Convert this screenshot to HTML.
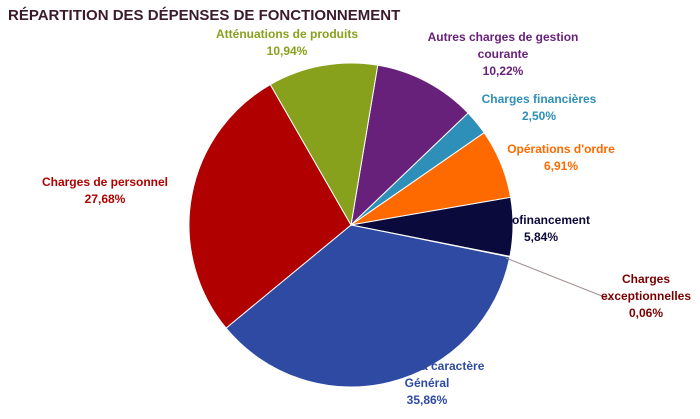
<!DOCTYPE html>
<html><head><meta charset="utf-8"><style>
body{margin:0;background:#fff;width:700px;height:414px;overflow:hidden}
svg{font-family:"Liberation Sans",sans-serif}
</style></head><body>
<svg id="c" width="700" height="414">
<text x="8" y="20" font-size="15" font-weight="bold" fill="#3b1a2b">RÉPARTITION DES DÉPENSES DE FONCTIONNEMENT</text>
<g id="slices"></g>
<line x1="506" y1="258" x2="612" y2="300" stroke="#a09090" stroke-width="1"/>
<g id="labels" font-size="12" font-weight="bold" text-anchor="middle"></g>
</svg>
<script>
const categories=["Autres charges de gestion courante","Charges financières","Opérations d'ordre","Autofinancement","Charges exceptionnelles","Charges à caractère Général","Charges de personnel","Atténuations de produits"];
const values=[10.22,2.50,6.91,5.84,0.06,35.86,27.68,10.94];
const valueLabels=["10,22%","2,50%","6,91%","5,84%","0,06%","35,86%","27,68%","10,94%"];
const colors=["#68217a","#2e8fb8","#ff6a00","#0b0a3c","#7a0000","#2e4aa3","#b00000","#87a11d"];
const labelLines=[["Autres charges de gestion","courante"],["Charges financières"],["Opérations d'ordre"],["Autofinancement"],["Charges","exceptionnelles"],["Charges à caractère","Général"],["Charges de personnel"],["Atténuations de produits"]];
const labelPos=[[503,41],[539,103],[561,153],[541,224],[646,283],[427,370],[105,186],[287,38]];
const textColors=["#68217a","#2e8fb8","#ff6a00","#0b0a3c","#7a0000","#2e4aa3","#b00000","#87a11d"];
const cx=351,cy=225,r=162,start=9.5;
const ns="http://www.w3.org/2000/svg";
const total=values.reduce((a,b)=>a+b,0);
function pt(a){const t=(a-90)*Math.PI/180;return [cx+r*Math.cos(t),cy+r*Math.sin(t)];}
let ang=start;
const sg=document.getElementById('slices');
values.forEach((v,i)=>{
  const sweep=v/total*360;
  const p1=pt(ang),p2=pt(ang+sweep);
  const p=document.createElementNS(ns,'path');
  p.setAttribute('d',`M${cx},${cy}L${p1[0]},${p1[1]}A${r},${r} 0 ${sweep>180?1:0} 1 ${p2[0]},${p2[1]}Z`);
  p.setAttribute('fill',colors[i]);
  p.setAttribute('stroke','#fff');
  p.setAttribute('stroke-width','1');
  
  
  sg.appendChild(p);
  ang+=sweep;
});
const lg=document.getElementById('labels');
categories.forEach((c,i)=>{
  const t=document.createElementNS(ns,'text');
  t.setAttribute('fill',textColors[i]);
  
  
  const lines=labelLines[i].concat([valueLabels[i]]);
  lines.forEach((l,j)=>{
    const s=document.createElementNS(ns,'tspan');
    s.setAttribute('x',labelPos[i][0]);
    s.setAttribute('y',labelPos[i][1]+j*17);
    s.textContent=l;
    t.appendChild(s);
  });
  lg.appendChild(t);
});
</script>
</body></html>
